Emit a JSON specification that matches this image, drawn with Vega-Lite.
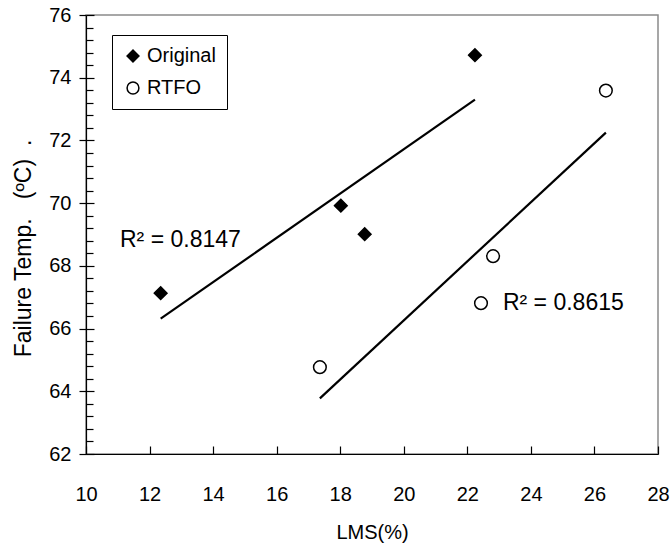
{
  "$schema": "https://vega.github.io/schema/vega-lite/v6.json",
  "width": 572,
  "height": 439,
  "autosize": "none",
  "padding": {"left": 86, "top": 15, "right": 12, "bottom": 95},
  "background": "white",
  "config": {
    "font": "Liberation Sans",
    "view": {"stroke": "#8a8a8a", "strokeWidth": 1.5},
    "axis": {"grid": false, "labelFlush": false, "labelOverlap": false, "domainColor": "#000", "tickColor": "#000", "labelColor": "#000", "titleColor": "#000", "labelFont": "Liberation Sans", "titleFont": "Liberation Sans", "labelFontSize": 20, "titleFontSize": 20, "titleFontWeight": "normal", "domainWidth": 1.2, "tickWidth": 1.2}
  },
  "datasets": {
    "points": [
      {"series": "Original", "lms": 12.35, "temp": 67.13},
      {"series": "Original", "lms": 18.02, "temp": 69.92},
      {"series": "Original", "lms": 18.77, "temp": 69.01},
      {"series": "Original", "lms": 22.24, "temp": 74.72},
      {"series": "RTFO", "lms": 17.36, "temp": 64.77},
      {"series": "RTFO", "lms": 22.43, "temp": 66.81},
      {"series": "RTFO", "lms": 22.81, "temp": 68.31},
      {"series": "RTFO", "lms": 26.36, "temp": 73.59}
    ],
    "labels": [
      {"lms": 11.07, "temp": 68.83, "label": "R² = 0.8147"},
      {"lms": 23.12, "temp": 66.82, "label": "R² = 0.8615"}
    ]
  },
  "layer": [
    {
      "data": {"name": "points"},
      "transform": [{"filter": "datum.series === 'RTFO'"}, {"regression": "temp", "on": "lms"}],
      "mark": {"type": "line", "color": "#000", "strokeWidth": 2.2},
      "encoding": {
        "x": {"field": "lms", "type": "quantitative", "scale": {"domain": [10, 28], "nice": false, "zero": false}, "axis": null},
        "y": {"field": "temp", "type": "quantitative", "scale": {"domain": [62, 76], "nice": false, "zero": false},
              "axis": {"orient": "left", "title": null, "labels": false, "domain": false, "tickSize": -7, "values": [62.4, 62.8, 63.2, 63.6, 64.4, 64.8, 65.2, 65.6, 66.4, 66.8, 67.2, 67.6, 68.4, 68.8, 69.2, 69.6, 70.4, 70.8, 71.2, 71.6, 72.4, 72.8, 73.2, 73.6, 74.4, 74.8, 75.2, 75.6]}}
      }
    },
    {
      "data": {"name": "points"},
      "transform": [{"filter": "datum.series === 'Original'"}, {"regression": "temp", "on": "lms"}],
      "mark": {"type": "line", "color": "#000", "strokeWidth": 2.2},
      "encoding": {
        "x": {"field": "lms", "type": "quantitative", "scale": {"domain": [10, 28], "nice": false, "zero": false}, "axis": null},
        "y": {"field": "temp", "type": "quantitative", "scale": {"domain": [62, 76], "nice": false, "zero": false},
              "axis": {"orient": "left", "title": null, "labels": false, "domain": false, "values": [62, 64, 66, 68, 70, 72, 74, 76], "tickSize": -8}}
      }
    },
    {
      "data": {"name": "points"},
      "mark": {"type": "point", "filled": false, "strokeWidth": 1.5, "opacity": 1, "size": 160},
      "encoding": {
        "x": {"field": "lms", "type": "quantitative", "scale": {"domain": [10, 28], "nice": false, "zero": false},
              "axis": {"orient": "bottom", "title": "LMS(%)", "values": [10, 12, 14, 16, 18, 20, 22, 24, 26, 28], "tickSize": -8, "labelPadding": 38, "titlePadding": 18}},
        "y": {"field": "temp", "type": "quantitative", "scale": {"domain": [62, 76], "nice": false, "zero": false},
              "axis": {"orient": "left", "title": "Failure Temp.\u00a0\u00a0\u00a0(ºC)\u00a0\u00a0.", "values": [62, 64, 66, 68, 70, 72, 74, 76], "tickSize": 7, "labelPadding": 8, "titleFontSize": 23, "titleX": -51, "titleY": 233, "titleAngle": -90, "titleBaseline": "bottom", "titleAlign": "center"}},
        "shape": {"field": "series", "type": "nominal", "scale": {"domain": ["Original", "RTFO"], "range": ["diamond", "circle"]},
                  "legend": {"orient": "none", "legendX": 26, "legendY": 20, "title": null, "strokeColor": "#000", "padding": 11, "labelFontSize": 20, "labelFont": "Liberation Sans", "symbolSize": 140, "rowPadding": 12, "labelColor": "#000", "symbolStrokeWidth": 1.5}},
        "fill": {"field": "series", "type": "nominal", "scale": {"domain": ["Original", "RTFO"], "range": ["#000", "#fff"]},
                 "legend": {"orient": "none", "legendX": 26, "legendY": 20, "title": null, "strokeColor": "#000", "padding": 11, "labelFontSize": 20, "labelFont": "Liberation Sans", "symbolSize": 140, "rowPadding": 12, "labelColor": "#000", "symbolStrokeWidth": 1.5}},
        "stroke": {"field": "series", "type": "nominal", "scale": {"domain": ["Original", "RTFO"], "range": ["#000", "#000"]},
                 "legend": {"orient": "none", "legendX": 26, "legendY": 20, "title": null, "strokeColor": "#000", "padding": 11, "labelFontSize": 20, "labelFont": "Liberation Sans", "symbolSize": 140, "rowPadding": 12, "labelColor": "#000", "symbolStrokeWidth": 1.5}}
      }
    },
    {
      "data": {"name": "labels"},
      "mark": {"type": "text", "align": "left", "baseline": "middle", "fontSize": 23, "font": "Liberation Sans", "color": "#000"},
      "encoding": {
        "x": {"field": "lms", "type": "quantitative", "scale": {"domain": [10, 28], "nice": false, "zero": false}, "axis": null},
        "y": {"field": "temp", "type": "quantitative", "scale": {"domain": [62, 76], "nice": false, "zero": false}, "axis": null},
        "text": {"field": "label"}
      }
    }
  ],
  "resolve": {"axis": {"x": "independent", "y": "independent"}}
}
